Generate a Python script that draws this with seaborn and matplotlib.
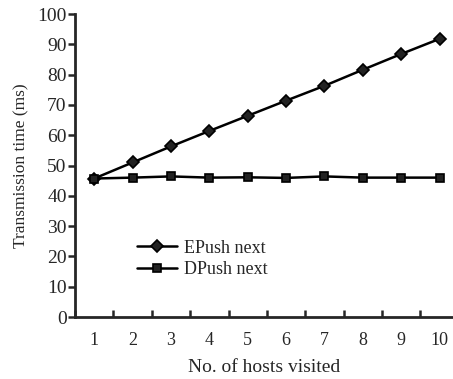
import matplotlib
matplotlib.use('Agg')
import matplotlib.pyplot as plt
import seaborn as sns
import pandas as pd
from matplotlib.ticker import FixedLocator

hosts = [1, 2, 3, 4, 5, 6, 7, 8, 9, 10]
epush = [45.7, 51.0, 56.3, 61.4, 66.4, 71.4, 76.3, 81.6, 86.8, 91.8]
dpush = [45.7, 46.0, 46.4, 46.0, 46.1, 45.9, 46.4, 46.0, 46.0, 46.0]
series_names = ['EPush next', 'DPush next']

df = pd.DataFrame({
    'hosts': hosts * 2,
    'time': epush + dpush,
    'series': [series_names[0]] * len(hosts) + [series_names[1]] * len(hosts),
})

sns.set_style('ticks')
plt.rcParams['font.family'] = ['Liberation Serif', 'DejaVu Serif']
plt.rcParams['font.size'] = 13

fig = plt.figure(figsize=(4.53, 3.79), dpi=100)
ax = fig.add_axes([75 / 453, 62 / 379, 378 / 453, 303 / 379])

sns.lineplot(data=df, x='hosts', y='time', hue='series', style='series',
             markers={'EPush next': 'D', 'DPush next': 's'}, dashes=False,
             palette={'EPush next': 'black', 'DPush next': 'black'},
             linewidth=1.8, markersize=6, markerfacecolor='#222222',
             markeredgecolor='black', markeredgewidth=1.2, ax=ax)

ax.set_xlim(0.5, 10.35)
ax.set_ylim(0, 100)
ax.set_yticks(range(0, 101, 10))
ax.xaxis.set_major_locator(FixedLocator([h - 0.5 for h in hosts]))
ax.xaxis.set_minor_locator(FixedLocator(hosts))
ax.set_xticklabels([])
ax.set_xticklabels([str(h) for h in hosts], minor=True)
ax.tick_params(axis='x', which='major', length=5, width=1.8, direction='in')
ax.tick_params(axis='x', which='minor', length=0, pad=11, labelsize=13)
ax.tick_params(axis='y', length=5, width=1.8, direction='out', pad=1, labelsize=14)

for s in ['left', 'bottom']:
    ax.spines[s].set_linewidth(2)
sns.despine(ax=ax)

ax.set_xlabel('No. of hosts visited', fontsize=14, labelpad=7)
ax.set_ylabel('Transmission time (ms)', fontsize=12.5, labelpad=6)

leg = ax.legend(loc='upper left', bbox_to_anchor=(0.14, 0.285), frameon=False,
                fontsize=13, handlelength=2.2, handletextpad=0.4,
                labelspacing=0.25, borderpad=0)

fig.savefig('out.png', dpi=100)
